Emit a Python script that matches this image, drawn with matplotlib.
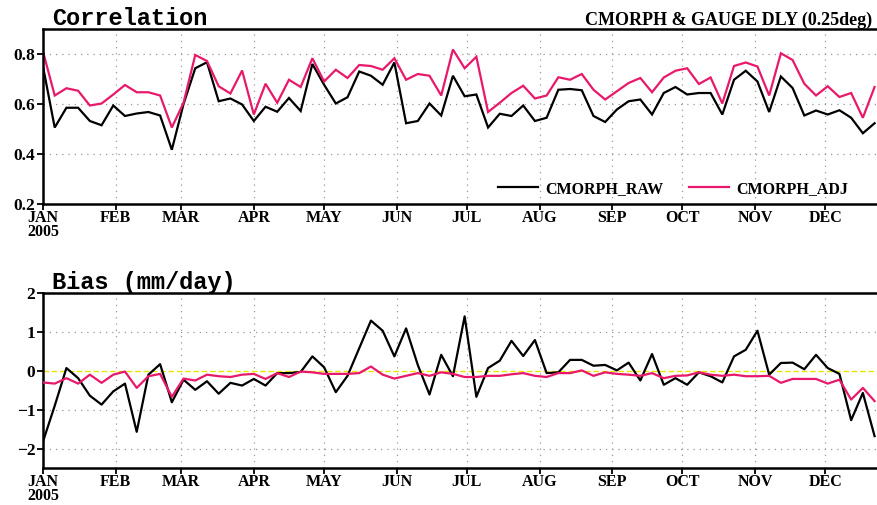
import numpy as np
import matplotlib
matplotlib.use("Agg")
import matplotlib.pyplot as plt

# pentad series, 2005 (one value every 5 days from Jan 1)
corr_raw = [0.75, 0.506, 0.585, 0.585, 0.532, 0.515, 0.594, 0.552, 0.562, 0.568,
            0.554, 0.417, 0.60, 0.743, 0.767, 0.611, 0.622, 0.598, 0.532, 0.589,
            0.569, 0.624, 0.572, 0.76, 0.677, 0.602, 0.627, 0.73, 0.713, 0.677,
            0.766, 0.523, 0.532, 0.602, 0.554, 0.713, 0.631, 0.638, 0.506, 0.561,
            0.552, 0.594, 0.532, 0.545, 0.657, 0.66, 0.655, 0.552, 0.528, 0.578,
            0.611, 0.618, 0.558, 0.644, 0.668, 0.638, 0.644, 0.644, 0.558, 0.697,
            0.733, 0.69, 0.568, 0.71, 0.664, 0.554, 0.574, 0.558, 0.575, 0.545,
            0.483, 0.523]
corr_adj = [0.81, 0.634, 0.663, 0.653, 0.594, 0.602, 0.638, 0.676, 0.647, 0.647,
            0.634, 0.506, 0.605, 0.796, 0.772, 0.671, 0.642, 0.734, 0.558, 0.681,
            0.605, 0.697, 0.668, 0.783, 0.69, 0.737, 0.704, 0.756, 0.752, 0.737,
            0.783, 0.697, 0.72, 0.713, 0.634, 0.818, 0.743, 0.789, 0.568, 0.605,
            0.644, 0.673, 0.622, 0.634, 0.707, 0.697, 0.72, 0.657, 0.618, 0.651,
            0.684, 0.704, 0.647, 0.706, 0.733, 0.743, 0.68, 0.706, 0.602, 0.752,
            0.766, 0.75, 0.634, 0.803, 0.776, 0.681, 0.634, 0.671, 0.628, 0.644,
            0.545, 0.668]
bias_raw = [-1.82, -0.9, 0.07, -0.19, -0.64, -0.87, -0.53, -0.33, -1.57, -0.1,
            0.17, -0.81, -0.23, -0.49, -0.27, -0.59, -0.31, -0.38, -0.21, -0.38,
            -0.06, -0.06, -0.03, 0.37, 0.09, -0.55, -0.13, 0.58, 1.29, 1.03,
            0.37, 1.09, 0.15, -0.61, 0.41, -0.14, 1.40, -0.67, 0.07, 0.26,
            0.77, 0.38, 0.79, -0.06, -0.04, 0.28, 0.28, 0.13, 0.15, 0.01,
            0.21, -0.25, 0.43, -0.36, -0.19, -0.36, -0.04, -0.14, -0.30, 0.37,
            0.54, 1.03, -0.1, 0.2, 0.21, 0.04, 0.41, 0.07, -0.08, -1.27,
            -0.57, -1.68]
bias_adj = [-0.3, -0.33, -0.19, -0.33, -0.1, -0.31, -0.1, -0.02, -0.44, -0.14,
            -0.08, -0.67, -0.2, -0.25, -0.1, -0.14, -0.16, -0.1, -0.08, -0.21,
            -0.06, -0.16, -0.02, -0.04, -0.08, -0.08, -0.08, -0.06, 0.11, -0.1,
            -0.2, -0.13, -0.06, -0.13, -0.04, -0.08, -0.16, -0.16, -0.13, -0.13,
            -0.09, -0.06, -0.13, -0.16, -0.06, -0.06, 0.01, -0.13, -0.04, -0.08,
            -0.1, -0.13, -0.06, -0.19, -0.13, -0.12, -0.04, -0.1, -0.13, -0.1,
            -0.14, -0.14, -0.13, -0.31, -0.21, -0.21, -0.21, -0.33, -0.23, -0.74,
            -0.44, -0.78]

months = ["JAN", "FEB", "MAR", "APR", "MAY", "JUN", "JUL", "AUG", "SEP", "OCT", "NOV", "DEC"]
month_start = [0, 31, 59, 90, 120, 151, 181, 212, 243, 273, 304, 334]
days = np.arange(len(corr_raw)) * 5

BLACK = "#000000"
PINK = "#e8196a"
TICKFONT = "Liberation Serif"

W, H = 877, 505
fig = plt.figure(figsize=(W / 100, H / 100), dpi=100)
fig.patch.set_facecolor("white")


def px_axes(left, top, right, bottom):
    return fig.add_axes([left / W, 1 - bottom / H, (right - left) / W, (bottom - top) / H])


def style_axes(ax, yticks, ylabels):
    ax.set_xlim(0, 365)
    ax.set_xticks(month_start)
    xl = list(months)
    xl[0] = "JAN\n2005"
    ax.set_xticklabels(xl, fontfamily=TICKFONT, fontweight="bold", fontsize=11.5,
                       va="top", linespacing=0.78)
    ax.set_yticks(yticks)
    ax.set_yticklabels(ylabels, fontfamily=TICKFONT, fontweight="bold", fontsize=12.5)
    ax.tick_params(direction="out", length=4, width=1.3)
    ax.tick_params(axis="x", pad=0.5)
    ax.tick_params(axis="y", pad=1.5)
    for s in ["left", "top", "bottom"]:
        ax.spines[s].set_linewidth(1.8)
    ax.spines["right"].set_visible(False)
    for x in month_start[1:]:
        ax.axvline(x, color="#999999", lw=0.9, ls=(0, (1, 4)), zorder=0)


# --- correlation panel
ax1 = px_axes(43, 29, 898, 204)
ax1.set_ylim(0.2, 0.9)
style_axes(ax1, [0.2, 0.4, 0.6, 0.8], ["0.2", "0.4", "0.6", "0.8"])
for y in [0.4, 0.6, 0.8]:
    ax1.axhline(y, color="#999999", lw=0.9, ls=(0, (1, 4)), zorder=0)
ax1.plot(days, corr_raw, color=BLACK, lw=1.6, label="CMORPH_RAW", solid_joinstyle="miter")
ax1.plot(days, corr_adj, color=PINK, lw=1.6, label="CMORPH_ADJ", solid_joinstyle="miter")
leg = ax1.legend(loc="center right", ncol=2, frameon=False,
                 bbox_to_anchor=(848 / W, 1 - 189 / H), bbox_transform=fig.transFigure,
                 borderaxespad=0, borderpad=0, handlelength=2.5, handletextpad=0.45,
                 columnspacing=1.6, prop={"family": TICKFONT, "weight": "bold", "size": 11.5})

fig.text(52 / W, 1 - 25 / H, "Correlation", fontfamily="Liberation Mono", fontweight="bold",
         fontsize=17, va="baseline", ha="left")
fig.text(585 / W, 1 - 25 / H, "CMORPH & GAUGE DLY (0.25deg)", fontfamily=TICKFONT,
         fontweight="bold", fontsize=13, va="baseline", ha="left")

# --- bias panel
ax2 = px_axes(43, 293, 898, 468)
ax2.set_ylim(-2.5, 2)
style_axes(ax2, [-2, -1, 0, 1, 2], ["\u22122", "\u22121", "0", "1", "2"])
for y in [-2, -1, 1]:
    ax2.axhline(y, color="#999999", lw=0.9, ls=(0, (1, 4)), zorder=0)
ax2.axhline(0, color="#e6e600", lw=1.0, ls=(0, (4, 2)), zorder=1)
ax2.plot(days, bias_raw, color=BLACK, lw=1.6, zorder=2)
ax2.plot(days, bias_adj, color=PINK, lw=1.6, zorder=3)

fig.text(52 / W, 1 - 289 / H, "Bias (mm/day)", fontfamily="Liberation Mono", fontweight="bold",
         fontsize=17, va="baseline", ha="left")

fig.savefig("out.png", dpi=100)
